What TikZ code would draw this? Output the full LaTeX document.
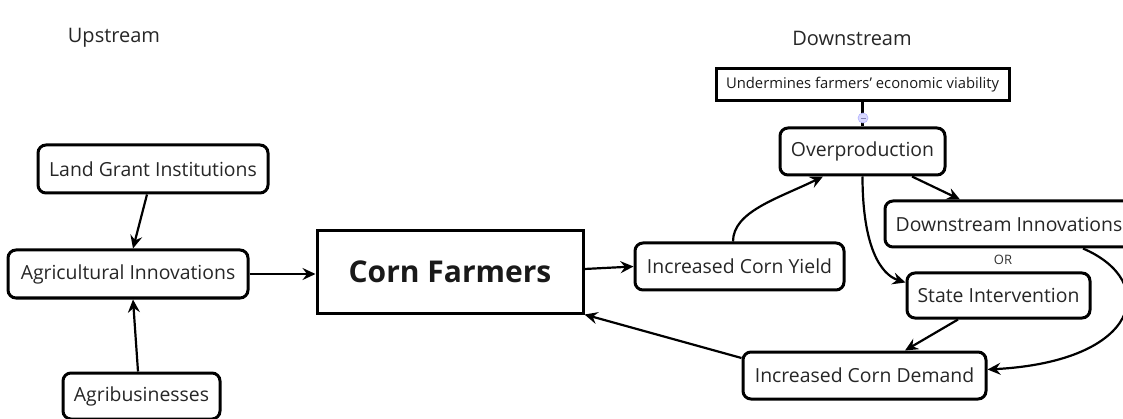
\documentclass[tikz,border=0pt]{standalone}
\usepackage{fontspec}
\setmainfont{Open Sans}
\usetikzlibrary{arrows.meta}
\begin{document}
\begin{tikzpicture}[x=1pt,y=-1pt,
  box/.style={draw, line width=3pt, rounded corners=8pt, inner sep=0pt, align=center,
    font=\fontsize{19.4}{22}\selectfont, text=black!85},
  sqbox/.style={draw, line width=3pt, inner sep=0pt, align=center, text=black!90},
  arr/.style={line width=2.2pt, -{Stealth[length=13pt,width=12pt,inset=4.5pt]}},
  head/.style={font=\fontsize{20}{23}\selectfont, text=black!85}]
\useasboundingbox (0,0) rectangle (1123,419);
% headings
\node[head] (up) at (114,38) {Upstream};
\node[head] (down) at (852,38) {Downstream};
% nodes
\node[sqbox, minimum width=293pt, minimum height=32pt, font=\fontsize{14.8}{17}\selectfont] (under) at (862.5,85) {Undermines farmers' economic viability};
\node[box, minimum width=165pt, minimum height=47pt] (over) at (862.5,151.5) {Overproduction};
\node[box, minimum width=230pt, minimum height=48pt] (land) at (153,169) {Land Grant Institutions};
\node[box, minimum width=240pt, minimum height=48pt] (aginn) at (128,274) {Agricultural Innovations};
\node[box, minimum width=157pt, minimum height=46pt] (agri) at (141.5,396) {Agribusinesses};
\node[sqbox, minimum width=266pt, minimum height=82pt, font=\fontsize{30}{33}\selectfont\bfseries] (corn) at (450,272) {Corn Farmers};
\node[box, minimum width=209pt, minimum height=47pt] (yield) at (739.5,266.5) {Increased Corn Yield};
\node[box, minimum width=248pt, minimum height=46pt] (dinn) at (1009,224) {Downstream Innovations};
\node[font=\fontsize{13}{15}\selectfont, text=black!80] (or) at (1003,260) {OR};
\node[box, minimum width=183pt, minimum height=45pt] (state) at (998.5,295.5) {State Intervention};
\node[box, minimum width=243pt, minimum height=47pt] (demand) at (864.5,375.5) {Increased Corn Demand};
% undermines link
\draw[line width=3.2pt] (under.south) -- (over.north);
\node[circle, fill=blue!15, draw=blue!30, line width=0.6pt, minimum size=10pt, inner sep=0pt] (minus) at (863,118) {};
\draw[blue!40!black!50, line width=0.8pt] ([xshift=-2.5pt]minus.center) -- ([xshift=2.5pt]minus.center);
% connectors
\draw[arr] ([xshift=-6pt]land.south) -- ([xshift=5pt]aginn.north);
\draw[arr] ([xshift=-3.5pt]agri.north) -- ([xshift=5pt]aginn.south);
\draw[arr] (aginn.east) -- (aginn.east -| corn.west);
\draw[arr] ([yshift=3pt]corn.east) -- (yield.west);
\draw[arr] ([xshift=-6.5pt]yield.north) .. controls +(0,-30) and +(-45,22) .. ([xshift=-39.5pt]over.south);
\draw[arr] ([xshift=49.5pt]over.south) -- ([xshift=-49pt]dinn.north);
\draw[arr] (over.south) .. controls +(0,70) and +(-25,-8) .. ([yshift=13pt]state.west);
\draw[arr] ([xshift=74pt]dinn.south) .. controls +(77,33) and +(153,-8) .. ([yshift=6pt]demand.east);
\draw[arr] ([xshift=-40.5pt]state.south) -- ([xshift=40.5pt]demand.north);
\draw[arr] ([yshift=17.5pt]demand.west) -- (corn.south east);
\end{tikzpicture}
\end{document}
